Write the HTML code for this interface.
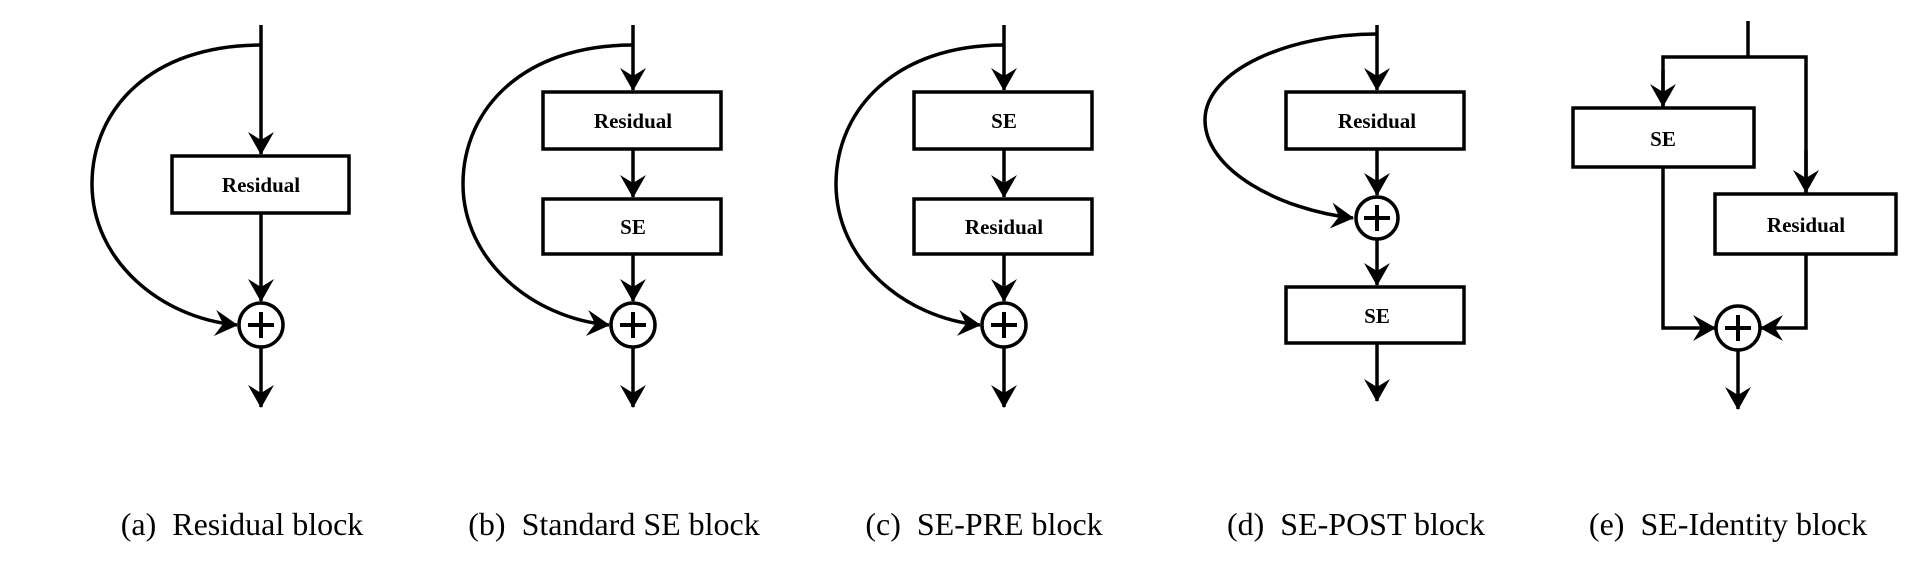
<!DOCTYPE html>
<html><head><meta charset="utf-8"><style>
html,body{margin:0;padding:0;background:#fff;}
svg{display:block;}
.b{fill:#fff;stroke:#000;stroke-width:3.5;}
.l{fill:none;stroke:#000;stroke-width:3.5;}
.t{font-family:"Liberation Serif",serif;font-weight:bold;font-size:21px;text-anchor:middle;}
.c{font-family:"Liberation Serif",serif;font-size:32px;text-anchor:middle;}
</style></head><body>
<svg width="1922" height="562" viewBox="0 0 1922 562" xmlns="http://www.w3.org/2000/svg">
<defs>
<marker id="a" markerUnits="userSpaceOnUse" markerWidth="60" markerHeight="60" refX="0" refY="0" viewBox="-30 -30 60 60" orient="auto">
<path d="M1,0 L-22,-13 L-14,0 L-22,13 Z" fill="#000"/>
</marker>
<g id="plus"><line x1="-13" y1="0" x2="13" y2="0" stroke="#000" stroke-width="4"/><line x1="0" y1="-13" x2="0" y2="13" stroke="#000" stroke-width="4"/></g>
</defs>

<!-- (a) -->
<line class="l" x1="261" y1="25" x2="261" y2="154" marker-end="url(#a)"/>
<path class="l" d="M261,45 C150,45 92,110 92,184 C92,260 160,318 237,325" marker-end="url(#a)"/>
<rect class="b" x="172" y="156" width="177" height="57"/>
<text class="t" x="261" y="192">Residual</text>
<line class="l" x1="261" y1="213" x2="261" y2="301" marker-end="url(#a)"/>
<circle class="b" cx="261" cy="325" r="22"/><use href="#plus" x="261" y="325"/>
<line class="l" x1="261" y1="347" x2="261" y2="407" marker-end="url(#a)"/>
<text class="c" x="242" y="535">(a)&#160;&#160;Residual block</text>

<!-- (b) -->
<line class="l" x1="633" y1="25" x2="633" y2="90" marker-end="url(#a)"/>
<path class="l" d="M633,45 C522,45 463,110 463,184 C463,260 532,318 609,325" marker-end="url(#a)"/>
<rect class="b" x="543" y="92" width="178" height="57"/>
<text class="t" x="633" y="128">Residual</text>
<line class="l" x1="633" y1="149" x2="633" y2="197" marker-end="url(#a)"/>
<rect class="b" x="543" y="199" width="178" height="55"/>
<text class="t" x="633" y="234">SE</text>
<line class="l" x1="633" y1="254" x2="633" y2="301" marker-end="url(#a)"/>
<circle class="b" cx="633" cy="325" r="22"/><use href="#plus" x="633" y="325"/>
<line class="l" x1="633" y1="347" x2="633" y2="407" marker-end="url(#a)"/>
<text class="c" x="614" y="535">(b)&#160;&#160;Standard SE block</text>

<!-- (c) -->
<line class="l" x1="1004" y1="25" x2="1004" y2="90" marker-end="url(#a)"/>
<path class="l" d="M1004,45 C895,45 836,110 836,184 C836,260 904,318 980,325" marker-end="url(#a)"/>
<rect class="b" x="914" y="92" width="178" height="57"/>
<text class="t" x="1004" y="128">SE</text>
<line class="l" x1="1004" y1="149" x2="1004" y2="197" marker-end="url(#a)"/>
<rect class="b" x="914" y="199" width="178" height="55"/>
<text class="t" x="1004" y="234">Residual</text>
<line class="l" x1="1004" y1="254" x2="1004" y2="301" marker-end="url(#a)"/>
<circle class="b" cx="1004" cy="325" r="22"/><use href="#plus" x="1004" y="325"/>
<line class="l" x1="1004" y1="347" x2="1004" y2="407" marker-end="url(#a)"/>
<text class="c" x="984" y="535">(c)&#160;&#160;SE-PRE block</text>

<!-- (d) -->
<line class="l" x1="1377" y1="25" x2="1377" y2="90" marker-end="url(#a)"/>
<path class="l" d="M1377,34 C1290,34 1205,70 1205,120 C1205,170 1280,210 1353,218" marker-end="url(#a)"/>
<rect class="b" x="1286" y="92" width="178" height="57"/>
<text class="t" x="1377" y="128">Residual</text>
<line class="l" x1="1377" y1="149" x2="1377" y2="195" marker-end="url(#a)"/>
<circle class="b" cx="1377" cy="218" r="21"/><use href="#plus" x="1377" y="218"/>
<line class="l" x1="1377" y1="239" x2="1377" y2="285" marker-end="url(#a)"/>
<rect class="b" x="1286" y="287" width="178" height="56"/>
<text class="t" x="1377" y="323">SE</text>
<line class="l" x1="1377" y1="343" x2="1377" y2="401" marker-end="url(#a)"/>
<text class="c" x="1356" y="535">(d)&#160;&#160;SE-POST block</text>

<!-- (e) -->
<line class="l" x1="1748" y1="21" x2="1748" y2="57"/>
<polyline class="l" points="1663,108 1663,57 1806,57 1806,194" />
<line class="l" x1="1663" y1="70" x2="1663" y2="106" marker-end="url(#a)"/>
<line class="l" x1="1806" y1="150" x2="1806" y2="192" marker-end="url(#a)"/>
<rect class="b" x="1573" y="108" width="181" height="59"/>
<text class="t" x="1663" y="146">SE</text>
<rect class="b" x="1715" y="194" width="181" height="60"/>
<text class="t" x="1806" y="232">Residual</text>
<polyline class="l" points="1663,167 1663,328 1715,328" marker-end="url(#a)"/>
<polyline class="l" points="1806,254 1806,328 1761,328" marker-end="url(#a)"/>
<circle class="b" cx="1738" cy="328" r="22"/><use href="#plus" x="1738" y="328"/>
<line class="l" x1="1738" y1="350" x2="1738" y2="409" marker-end="url(#a)"/>
<text class="c" x="1728" y="535">(e)&#160;&#160;SE-Identity block</text>
</svg>
</body></html>
